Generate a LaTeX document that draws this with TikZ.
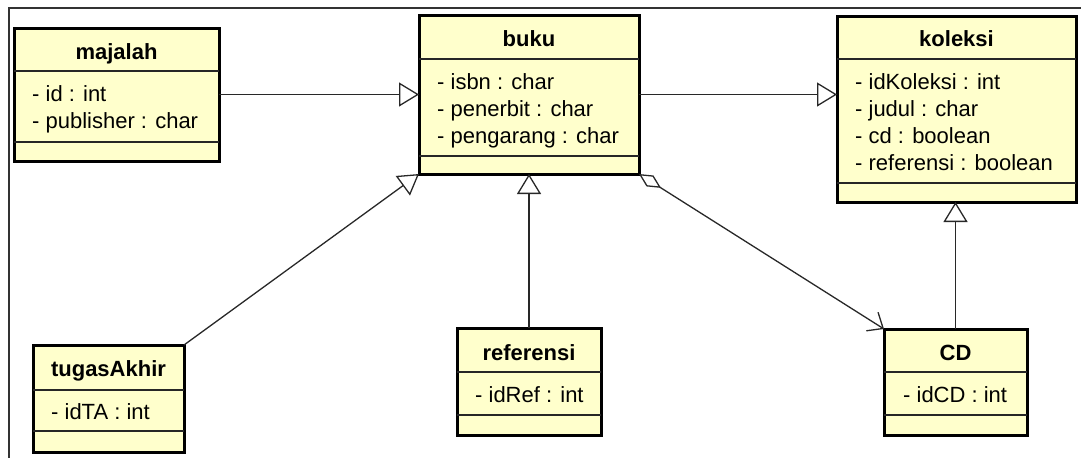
\documentclass[tikz,border=0pt]{standalone}
\usepackage{fontspec}
\setmainfont{Liberation Sans}
\usetikzlibrary{arrows.meta}
\definecolor{clsfill}{RGB}{255,255,204}
\definecolor{linegray}{RGB}{40,40,40}
\tikzset{
  box/.style={draw=black, line width=3pt, fill=clsfill, rectangle, inner sep=0pt, outer sep=0pt},
  sep/.style={draw=black!85, line width=1.5pt},
  hdr/.style={anchor=base, inner sep=0pt, font=\fontsize{22}{26}\selectfont\bfseries},
  attr/.style={anchor=base west, inner sep=0pt, font=\fontsize{22}{26}\selectfont},
  conn/.style={draw=linegray, line width=1.3pt},
  gen/.style={conn, -{Triangle[open, length=20pt, width=24pt, line width=1.3pt]}},
  agg/.style={conn, {Diamond[open, length=26pt, width=13pt, line width=1.3pt]}-{Straight Barb[length=13pt, width=22pt, line width=1.3pt]}},
  frame/.style={draw=black!80, line width=2pt}
}
\begin{document}
\begin{tikzpicture}[x=1pt, y=-1pt]
\useasboundingbox (0,0) rectangle (1081,458);
% frame
\coordinate (ftr) at (1081,8);
\coordinate (ftl) at (9,8);
\coordinate (fbl) at (9,458);
\draw[frame] (ftr) -- (ftl) -- (fbl);

% majalah
\node[box, minimum width=205pt, minimum height=133pt] (majalah) at (116.5,94.5) {};
\draw[sep] (14,71) -- (219,71);
\draw[sep] (14,142) -- (219,142);
\node[hdr] (majalah-h) at (116.5,59) {majalah};
\node[attr] (majalah-a1) at (32,101.5) {- id : int};
\node[attr] (majalah-a2) at (32,128.5) {- publisher : char};

% buku
\node[box, minimum width=220pt, minimum height=159pt] (buku) at (529,94.5) {};
\draw[sep] (419,59) -- (639,59);
\draw[sep] (419,156) -- (639,156);
\node[hdr] (buku-h) at (529,46.5) {buku};
\node[attr] (buku-a1) at (437,89.3) {- isbn : char};
\node[attr] (buku-a2) at (437,116.6) {- penerbit : char};
\node[attr] (buku-a3) at (437,143.9) {- pengarang : char};

% koleksi
\node[box, minimum width=239pt, minimum height=186pt] (koleksi) at (956.5,109) {};
\draw[sep] (837,59) -- (1076,59);
\draw[sep] (837,183) -- (1076,183);
\node[hdr] (koleksi-h) at (956.5,46.5) {koleksi};
\node[attr] (koleksi-a1) at (855,89.3) {- idKoleksi : int};
\node[attr] (koleksi-a2) at (855,116.5) {- judul : char};
\node[attr] (koleksi-a3) at (855,143.7) {- cd : boolean};
\node[attr] (koleksi-a4) at (855,170.9) {- referensi : boolean};

% tugasAkhir
\node[box, minimum width=151pt, minimum height=107pt] (tugas) at (108.5,398.5) {};
\draw[sep] (33,390) -- (184,390);
\draw[sep] (33,431) -- (184,431);
\node[hdr] (tugas-h) at (108.5,376) {tugasAkhir};
\node[attr] (tugas-a1) at (51,419.5) {- idTA : int};

% referensi
\node[box, minimum width=144pt, minimum height=107pt] (referensi) at (529,381.5) {};
\draw[sep] (457,372) -- (601,372);
\draw[sep] (457,415) -- (601,415);
\node[hdr] (referensi-h) at (529,360) {referensi};
\node[attr] (referensi-a1) at (475,402.5) {- idRef : int};

% CD
\node[box, minimum width=143pt, minimum height=106pt] (cd) at (955.5,382) {};
\draw[sep] (884,372) -- (1027,372);
\draw[sep] (884,415) -- (1027,415);
\node[hdr] (cd-h) at (955.5,360.5) {CD};
\node[attr] (cd-a1) at (903,402) {- idCD : int};

% connectors
\draw[gen] (majalah.east) -- (buku.west);
\draw[gen] (buku.east) -- (buku.east -| koleksi.west);
\draw[gen] (tugas.north east) -- (buku.south west);
\draw[gen] (referensi.north) -- (buku.south);
\draw[gen] (cd.north) -- (cd.north |- koleksi.south);
\draw[agg] (buku.south east) -- (cd.north west);
\end{tikzpicture}
\end{document}
